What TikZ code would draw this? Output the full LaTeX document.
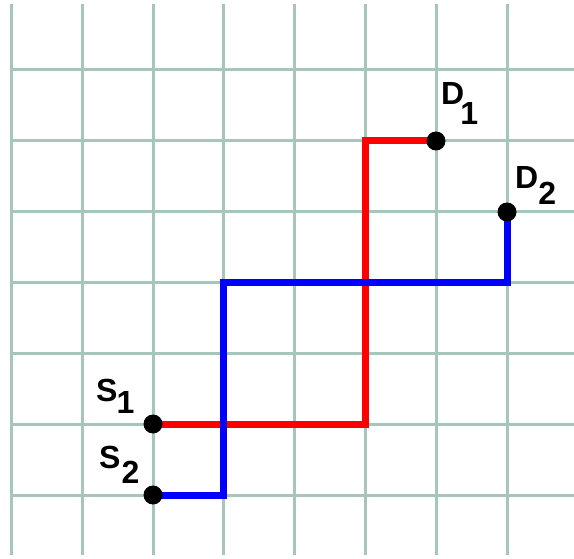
\documentclass[tikz,border=0pt]{standalone}
\usepackage{fontspec}
\setmainfont{Liberation Sans}
\definecolor{gridc}{RGB}{166,198,188}
\begin{document}
\begin{tikzpicture}[x=1pt,y=-1pt,
  gridline/.style={draw=gridc,line width=3pt},
  redpath/.style={draw=red,line width=7pt},
  bluepath/.style={draw=blue,line width=7pt},
  dot/.style={circle,fill=black,inner sep=0pt,minimum size=19pt},
  lbl/.style={font=\fontsize{32}{32}\selectfont\bfseries,inner sep=0pt,anchor=north west}]
\useasboundingbox (0,0) rectangle (574,559);
\fill[white] (0,0) rectangle (574,559);
% grid
\foreach \x in {11,82,153,223,294,365,436,507}
  \draw[gridline] (\x,4) -- (\x,555);
\foreach \y in {70,141,212,283,354,424,495}
  \draw[gridline] (11,\y) -- (576,\y);
% point and corner coordinates
\coordinate (ps1) at (153,424);
\coordinate (ps2) at (153,495);
\coordinate (pd1) at (436,141);
\coordinate (pd2) at (507,212);
\coordinate (r1) at (365,424);
\coordinate (r2) at (365,141);
\coordinate (b1) at (223,495);
\coordinate (b2) at (223,283);
\coordinate (b3) at (507,283);
% paths
\draw[redpath] (ps1) -- (r1) -- (r2) -- (pd1);
\draw[bluepath] (ps2) -- (b1) -- (b2) -- (b3) -- (pd2);
% points
\node[dot] (s1) at (ps1) {};
\node[dot] (s2) at (ps2) {};
\node[dot] (d1) at (pd1) {};
\node[dot] (d2) at (pd2) {};
% labels
\node[lbl] (ld1) at (441,82) {D\kern-4pt\raisebox{-20pt}{1}};
\node[lbl] (ld2) at (515,166) {D\kern0pt\raisebox{-16pt}{2}};
\node[lbl] (ls1) at (96,379) {S\kern-1pt\raisebox{-12pt}{1}};
\node[lbl] (ls2) at (99,446) {S\kern1pt\raisebox{-15pt}{2}};
\end{tikzpicture}
\end{document}
